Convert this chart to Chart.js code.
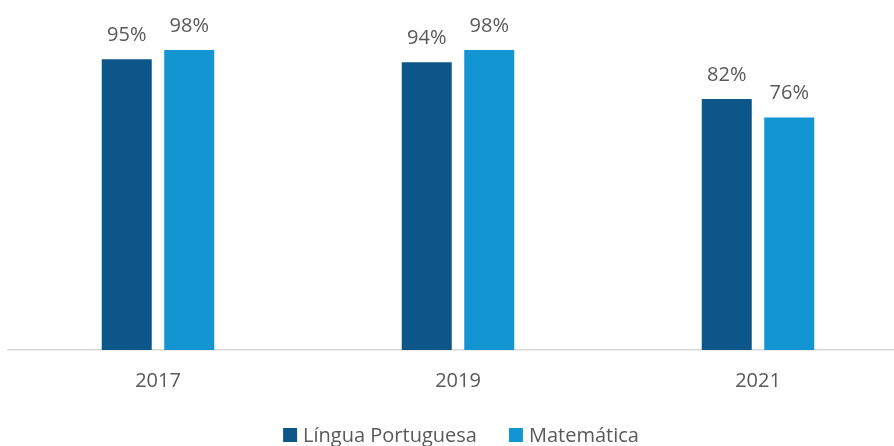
<!DOCTYPE html>
<html>
<head>
<meta charset="utf-8">
<script src="https://cdn.jsdelivr.net/npm/chart.js@4.4.0/dist/chart.umd.min.js"></script>
<style>
  html, body { margin: 0; padding: 0; background: #fff; overflow: hidden; }
  /* canvas a bit wider than the window: the axis runs off the right edge as in the original */
  #wrap { width: 908px; height: 446px; position: relative; }
</style>
</head>
<body>
<div id="wrap"><canvas id="chart"></canvas></div>
<script>
const years = ['2017', '2019', '2021'];
const portugues = [0.95, 0.94, 0.82];
const matematica = [0.98, 0.98, 0.76];

const textColor = '#595959';
const fontFamily = '"Open Sans", "Liberation Sans", sans-serif';

// percentage above each bar + legend drawn by hand (tighter box/text gap)
const barLabels = {
  id: 'barLabels',
  afterDatasetsDraw(chart) {
    const { ctx, chartArea } = chart;
    ctx.save();
    ctx.fillStyle = textColor;
    ctx.font = '20px ' + fontFamily;
    ctx.textAlign = 'center';
    ctx.textBaseline = 'alphabetic';
    chart.data.datasets.forEach((ds, i) => {
      chart.getDatasetMeta(i).data.forEach((bar, j) => {
        ctx.fillText(Math.round(ds.data[j] * 100) + '%', bar.x, bar.y - 18);
      });
    });

    // legend
    const box = 14, gap = 6, itemGap = 32;
    const items = chart.data.datasets.map(ds => ({ text: ds.label, color: ds.backgroundColor, w: ctx.measureText(ds.label).width }));
    const total = items.reduce((s, it) => s + box + gap + it.w, 0) + itemGap * (items.length - 1);
    let x = (chartArea.left + chartArea.right) / 2 + 3 - total / 2;
    const y = 435;
    ctx.textAlign = 'left';
    ctx.textBaseline = 'middle';
    items.forEach(it => {
      ctx.fillStyle = it.color;
      ctx.fillRect(x, y - box / 2, box, box);
      ctx.fillStyle = textColor;
      ctx.fillText(it.text, x + box + gap, y + 1);
      x += box + gap + it.w + itemGap;
    });
    ctx.restore();
  }
};

new Chart(document.getElementById('chart'), {
  type: 'bar',
  data: {
    labels: years,
    datasets: [
      { label: 'Língua Portuguesa', data: portugues, backgroundColor: '#0c5689' },
      { label: 'Matemática', data: matematica, backgroundColor: '#1395d4' },
    ],
  },
  options: {
    responsive: true, maintainAspectRatio: false, animation: false,
    datasets: { bar: { categoryPercentage: 0.4167, barPercentage: 0.8 } },
    layout: { padding: { top: 44, left: 8, right: 0, bottom: 34 } },
    scales: {
      x: {
        grid: { display: false, drawTicks: false },
        border: { color: '#d9d9d9', width: 1.5 },
        ticks: { color: textColor, font: { family: fontFamily, size: 20 }, padding: 19 },
      },
      y: { display: false, min: 0, max: 1 },
    },
    plugins: {
      legend: { display: false },
      tooltip: { enabled: false },
    },
  },
  plugins: [barLabels],
});
</script>
</body>
</html>
